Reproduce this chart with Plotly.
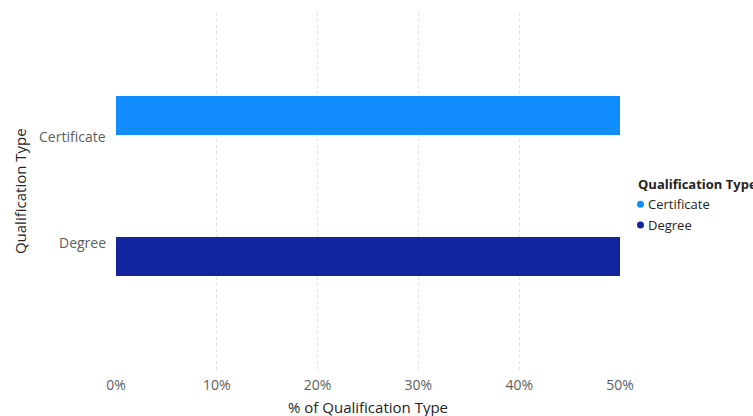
import plotly.graph_objects as go

# Share of each qualification type
categories = ["Certificate", "Degree"]
shares = [0.5, 0.5]
colors = ["#118DFF", "#12239E"]
tick_vals = [0, 0.1, 0.2, 0.3, 0.4, 0.5]
tick_text = ["0%", "10%", "20%", "30%", "40%", "50%"]

FONT = "Open Sans, Segoe UI, sans-serif"
LABEL = "#605E5C"
TITLE = "#252423"

fig = go.Figure()

for cat, val, col in zip(categories, shares, colors):
    fig.add_trace(go.Bar(
        x=[val], y=[cat], orientation="h",
        marker=dict(color=col, line=dict(width=0)),
        width=0.277, showlegend=False, name=cat,
        hovertemplate="%{y}: %{x:.0%}<extra></extra>",
    ))

annotations = []
shapes = []

# category labels, nudged the way the report lays them out
label_shift = {"Certificate": -21, "Degree": 14}
for cat in categories:
    annotations.append(dict(
        text=cat, xref="paper", x=0, xanchor="right", xshift=-8,
        yref="y", y=cat, yanchor="middle", yshift=label_shift[cat],
        showarrow=False, font=dict(family=FONT, size=14, color=LABEL),
    ))

# axis titles
annotations.append(dict(
    text="Qualification Type", textangle=-90, showarrow=False,
    xref="paper", x=-0.19, xanchor="center",
    yref="paper", y=0.506, yanchor="middle",
    font=dict(family=FONT, size=15, color=TITLE),
))
annotations.append(dict(
    text="% of Qualification Type", showarrow=False,
    xref="paper", x=0.5, xanchor="center",
    yref="paper", y=-0.094, yanchor="middle",
    font=dict(family=FONT, size=15, color=TITLE),
))

# legend: title plus round swatches
LEG_X = 1.0317
annotations.append(dict(
    text="<b>Qualification Type</b>", showarrow=False,
    xref="paper", x=LEG_X, xanchor="left",
    yref="paper", y=0.525, yanchor="middle",
    font=dict(family=FONT, size=13, color=TITLE),
))
leg_rows = [0.469, 0.411]
for cat, col, yy in zip(categories, colors, leg_rows):
    shapes.append(dict(
        type="circle", xref="paper", yref="paper",
        xsizemode="pixel", ysizemode="pixel",
        xanchor=LEG_X, yanchor=yy,
        x0=1, x1=8, y0=-3.5, y1=3.5,
        fillcolor=col, line=dict(width=0),
    ))
    annotations.append(dict(
        text=cat, showarrow=False,
        xref="paper", x=LEG_X, xanchor="left", xshift=10,
        yref="paper", y=yy, yanchor="middle",
        font=dict(family=FONT, size=13, color=TITLE),
    ))

fig.update_layout(
    width=753, height=416,
    margin=dict(l=116, r=133, t=13, b=43, autoexpand=False),
    paper_bgcolor="white", plot_bgcolor="white",
    font=dict(family=FONT, size=14, color=LABEL),
    bargap=0,
    showlegend=False,
    annotations=annotations,
    shapes=shapes,
    xaxis=dict(
        range=[0, 0.5], tickvals=tick_vals, ticktext=tick_text,
        showgrid=True, gridcolor="#E3E3E3", griddash="dot", gridwidth=1,
        zeroline=False, showline=False, ticks="",
        ticklabelstandoff=2,
        tickfont=dict(family=FONT, size=14, color=LABEL),
        fixedrange=True,
    ),
    yaxis=dict(
        categoryorder="array", categoryarray=categories[::-1],
        range=[-0.826, 1.727],
        showgrid=False, zeroline=False, showline=False, ticks="",
        showticklabels=False,
        fixedrange=True,
    ),
)

fig.write_html("out.html")
